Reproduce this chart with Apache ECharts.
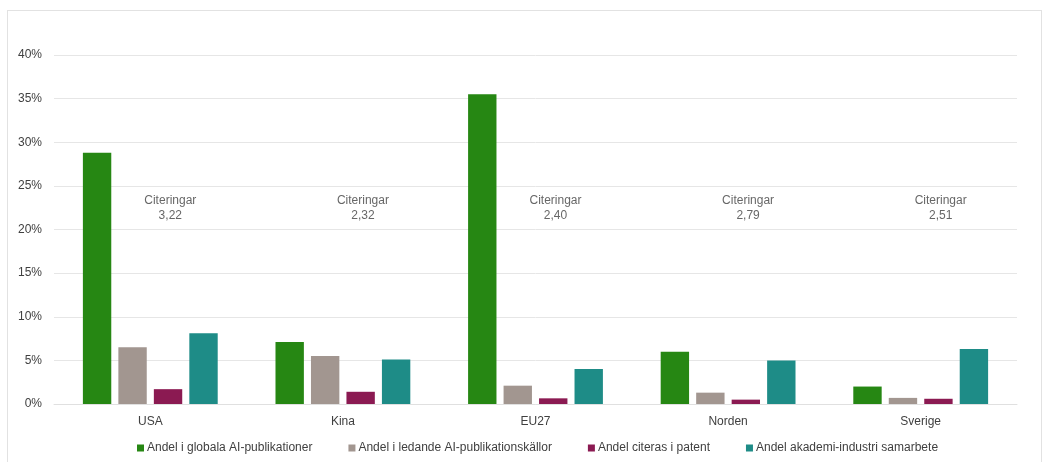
<!DOCTYPE html>
<html><head><meta charset="utf-8">
<script src="https://cdn.jsdelivr.net/npm/echarts@6/dist/echarts.min.js"></script>
<style>
html,body{margin:0;padding:0;background:#fff;}
#frame{position:absolute;left:7px;top:10px;width:1035px;height:470px;border:1px solid #e2e2e2;box-sizing:border-box;}
#chart{position:absolute;left:0;top:0;width:1051px;height:462px;}
</style></head>
<body>
<div id="frame"></div>
<div id="chart"></div>
<script>
const categories = ['USA', 'Kina', 'EU27', 'Norden', 'Sverige'];
const seriesNames = ['Andel i globala AI-publikationer', 'Andel i ledande AI-publikationskällor', 'Andel citeras i patent', 'Andel akademi-industri samarbete'];
const globala = [28.8, 7.1, 35.5, 6.0, 2.0];
const ledande = [6.5, 5.5, 2.1, 1.3, 0.7];
const patent = [1.7, 1.4, 0.65, 0.5, 0.6];
const samarbete = [8.1, 5.1, 4.0, 5.0, 6.3];
const citeringar = ['3,22', '2,32', '2,40', '2,79', '2,51'];
const citeringarLevel = 22.5;
const yTicks = [0, 5, 10, 15, 20, 25, 30, 35, 40];

const colors = ['#268713', '#a29690', '#8b1a52', '#1e8c87'];
const values = [globala, ledande, patent, samarbete];
const font = "'Liberation Sans', Arial, sans-serif";

const chart = echarts.init(document.getElementById('chart'));
const barSeries = seriesNames.map((n, i) => ({
  name: n, type: 'bar', data: values[i],
  itemStyle: { color: colors[i] },
  barGap: '25%', barCategoryGap: '30%'
}));
chart.setOption({
  animation: false,
  textStyle: { fontFamily: font },
  grid: { left: 54, right: 34, top: 55, bottom: 58 },
  legend: {
    data: seriesNames, bottom: 3, left: 132,
    itemWidth: 7, itemHeight: 7, itemGap: 36, icon: 'rect',
    textStyle: { fontFamily: font, fontSize: 12, color: '#404040', padding: [0, 0, 0, -2] }
  },
  xAxis: {
    type: 'category', data: categories,
    axisLine: { lineStyle: { color: '#e0e0e0' } },
    axisTick: { show: false },
    axisLabel: { fontFamily: font, fontSize: 12, color: '#404040', margin: 12 }
  },
  yAxis: {
    type: 'value', min: yTicks[0], max: yTicks[yTicks.length - 1], interval: 5,
    axisLine: { show: false }, axisTick: { show: false },
    splitLine: { lineStyle: { color: '#e6e6e6' } },
    axisLabel: { fontFamily: font, fontSize: 12, color: '#404040', margin: 12, formatter: '{value}%' }
  },
  series: barSeries.concat([{
    name: 'Citeringar', type: 'scatter', symbolSize: 0,
    data: categories.map((c, i) => [c, citeringarLevel]),
    label: {
      show: true, position: 'inside', offset: [20, 0],
      formatter: p => 'Citeringar\n' + citeringar[p.dataIndex],
      fontFamily: font, fontSize: 12, color: '#404040', lineHeight: 15, align: 'center'
    },
    silent: true
  }])
});
</script>
</body></html>
